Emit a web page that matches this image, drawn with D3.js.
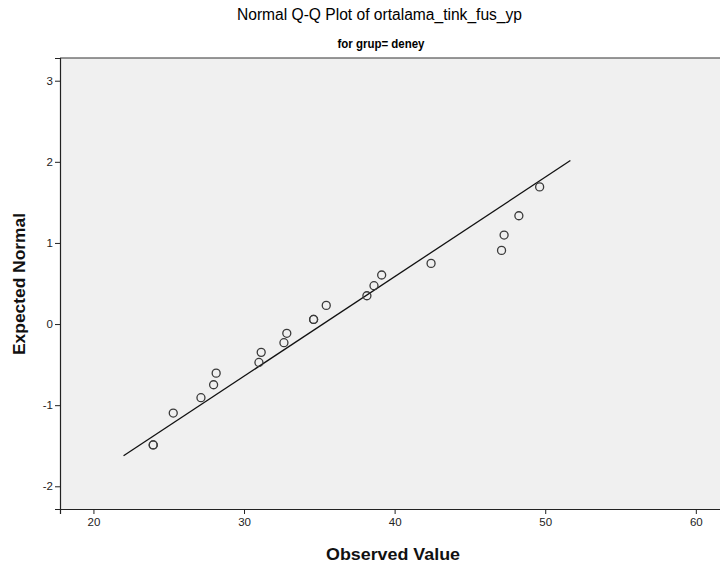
<!DOCTYPE html>
<html>
<head>
<meta charset="utf-8">
<script src="https://cdn.jsdelivr.net/npm/d3@7"></script>
<style>
  html, body { margin: 0; padding: 0; background: #ffffff; }
  svg { display: block; font-family: "Liberation Sans", Arial, sans-serif; }
</style>
</head>
<body>
<svg id="chart" width="720" height="570"></svg>
<script>
// ---- data ----
const titleText = "Normal Q-Q Plot of ortalama_tink_fus_yp";
const subtitleText = "for grup= deney";
const xLabel = "Observed Value";
const yLabel = "Expected Normal";

const observed = [23.97, 23.97, 25.30, 27.14, 27.98, 28.15, 30.99, 31.14, 32.65, 32.84,
                  34.62, 34.62, 35.46, 38.16, 38.63, 39.14, 42.42, 47.10, 47.27, 48.25, 49.63];
const expected = [-1.490, -1.490, -1.097, -0.908, -0.748, -0.605, -0.473, -0.349, -0.230, -0.114,
                  0.057, 0.057, 0.230, 0.349, 0.473, 0.605, 0.748, 0.908, 1.097, 1.335, 1.691];

const lineX = [22.0, 51.67];
const lineMean = 35.24;
const lineSD = 8.15;

const xTicks = [20, 30, 40, 50, 60];
const yTicks = [-2, -1, 0, 1, 2, 3];
const xDomain = [17.78, 62.27];
const yDomain = [-2.28, 3.28];

// ---- drawing ----
(function () {
const svg = d3.select("#chart");
const pLeft = 60, pRight = 730, pTop = 58, pBottom = 509;

const x = d3.scaleLinear().domain(xDomain).range([pLeft, pRight]);
const y = d3.scaleLinear().domain(yDomain).range([pBottom, pTop]);

// plot background
svg.append("rect")
  .attr("x", pLeft).attr("y", pTop)
  .attr("width", pRight - pLeft).attr("height", pBottom - pTop)
  .attr("fill", "#f0f0f0");

// top frame line
svg.append("line")
  .attr("x1", pLeft).attr("x2", pRight)
  .attr("y1", pTop).attr("y2", pTop)
  .attr("stroke", "#333").attr("stroke-width", 1.2);

// axes
const fmt = d => String(d);
const xAxis = d3.axisBottom(x).tickValues(xTicks).tickSize(5).tickPadding(4).tickFormat(fmt);
const yAxis = d3.axisLeft(y).tickValues(yTicks).tickSize(5).tickPadding(2).tickFormat(fmt);

const gx = svg.append("g").attr("transform", `translate(0,${pBottom})`).call(xAxis);
const gy = svg.append("g").attr("transform", `translate(${pLeft},0)`).call(yAxis);

[gx, gy].forEach(g => {
  g.select(".domain").attr("stroke", "#222").attr("stroke-width", 1.2);
  g.selectAll(".tick line").attr("stroke", "#222").attr("stroke-width", 1);
  g.selectAll(".tick text")
    .attr("fill", "#222")
    .style("font-family", "'Liberation Sans', Arial, sans-serif")
    .style("font-size", "11.5px");
});

// reference line
svg.append("line")
  .attr("x1", x(lineX[0])).attr("y1", y((lineX[0] - lineMean) / lineSD))
  .attr("x2", x(lineX[1])).attr("y2", y((lineX[1] - lineMean) / lineSD))
  .attr("stroke", "#111").attr("stroke-width", 1.3);

// points
svg.append("g").selectAll("circle")
  .data(observed.map((v, i) => ({ x: v, y: expected[i] })))
  .join("circle")
  .attr("cx", d => x(d.x))
  .attr("cy", d => y(d.y))
  .attr("r", 4)
  .attr("fill", "none")
  .attr("stroke", "#3a3a3a")
  .attr("stroke-width", 1.3);

// titles
svg.append("text")
  .attr("x", 379.5).attr("y", 20)
  .attr("text-anchor", "middle")
  .attr("textLength", 285).attr("lengthAdjust", "spacingAndGlyphs")
  .style("font-size", "16px")
  .attr("fill", "#000")
  .text(titleText);

svg.append("text")
  .attr("x", 381).attr("y", 48)
  .attr("text-anchor", "middle")
  .attr("textLength", 87).attr("lengthAdjust", "spacingAndGlyphs")
  .style("font-size", "12px")
  .style("font-weight", "bold")
  .attr("fill", "#000")
  .text(subtitleText);

svg.append("text")
  .attr("x", 393).attr("y", 560)
  .attr("text-anchor", "middle")
  .attr("textLength", 134).attr("lengthAdjust", "spacingAndGlyphs")
  .style("font-size", "16px")
  .style("font-weight", "bold")
  .attr("fill", "#111")
  .text(xLabel);

svg.append("text")
  .attr("transform", `translate(25,284) rotate(-90)`)
  .attr("text-anchor", "middle")
  .attr("textLength", 142).attr("lengthAdjust", "spacingAndGlyphs")
  .style("font-size", "16px")
  .style("font-weight", "bold")
  .attr("fill", "#111")
  .text(yLabel);
})();
</script>
</body>
</html>
